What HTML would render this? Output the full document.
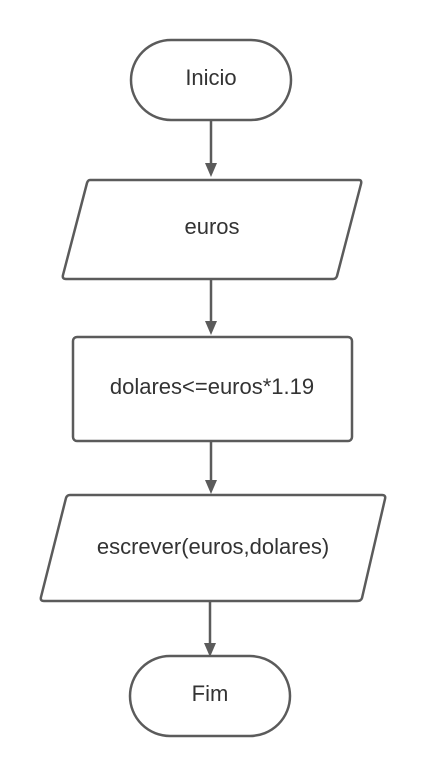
<!DOCTYPE html>
<html><head><style>html,body{margin:0;padding:0;background:#fff;}</style></head>
<body>
<svg width="426" height="776" viewBox="0 0 426 776" xmlns="http://www.w3.org/2000/svg">
<g fill="none" stroke="#5b5b5b" stroke-width="2.5" stroke-linejoin="round">
<rect x="131" y="40" width="160" height="80" rx="40" fill="#fff"/>
<path d="M90 180 L359 180 Q362 180 361 184 L337 276 Q336 279 333 279 L66 279 Q62 279 63 275 L87 183 Q88 180 90 180 Z" fill="#fff"/>
<rect x="73" y="337" width="279" height="104" rx="4" fill="#fff"/>
<path d="M70 495 L382 495 Q386 495 385 499 L362 598 Q361 601 357 601 L44 601 Q40 601 41 597 L66 498 Q67 495 70 495 Z" fill="#fff"/>
<rect x="130" y="656" width="160" height="80" rx="40" fill="#fff"/>
<line x1="211" y1="121" x2="211" y2="164"/>
<line x1="211" y1="279" x2="211" y2="322"/>
<line x1="211" y1="441" x2="211" y2="482"/>
<line x1="210" y1="601" x2="210" y2="644"/>
</g>
<g fill="#5b5b5b">
<polygon points="205,163 217,163 211,177"/>
<polygon points="205,321 217,321 211,335"/>
<polygon points="205,480 217,480 211,494"/>
<polygon points="204,643 216,643 210,657"/>
</g>
<g font-family="Liberation Sans, sans-serif" font-size="22" fill="#333" text-anchor="middle">
<text x="211" y="85">Inicio</text>
<text x="212" y="234">euros</text>
<text x="212" y="394">dolares&lt;=euros*1.19</text>
<text x="213" y="554">escrever(euros,dolares)</text>
<text x="210" y="701">Fim</text>
</g>
</svg>
</body></html>
